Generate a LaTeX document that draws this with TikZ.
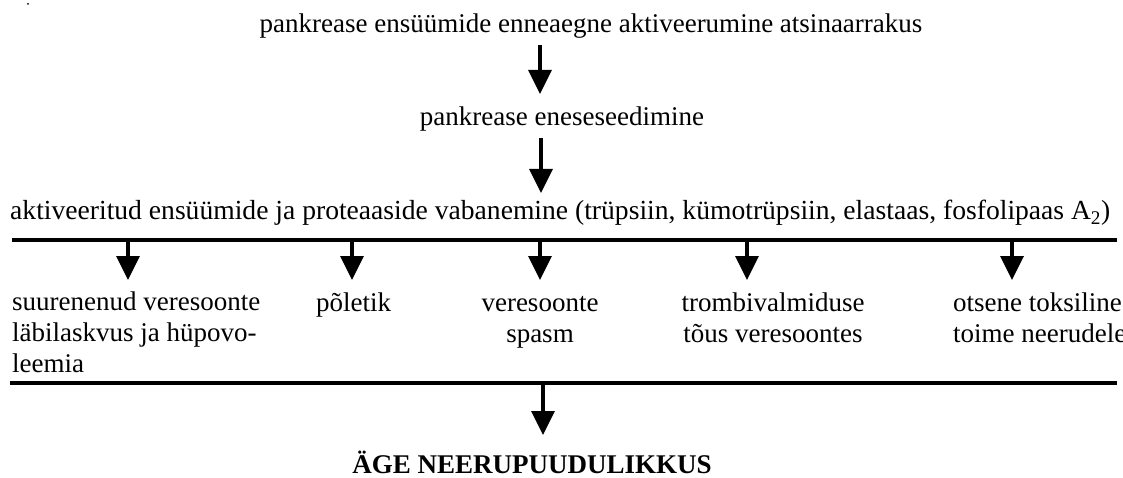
\documentclass[tikz,border=0pt]{standalone}
\usepackage{fontspec}
\setmainfont{Liberation Serif}
\usetikzlibrary{arrows.meta}

\tikzset{
  txt/.style={inner sep=0pt, font=\fontsize{27}{31}\selectfont},
  flow/.style={line width=3.5pt, -{Triangle[width=23pt,length=24pt]}},
  bar/.style={line width=4pt},
}

\begin{document}
\begin{tikzpicture}[x=1pt,y=-1pt]
  \useasboundingbox (0,0) rectangle (1123,478);
  \fill (28,4) circle (1);

  % chain at the top
  \node[txt, anchor=base] (aktiv) at (591,33) {pankrease ensüümide enneaegne aktiveerumine atsinaarrakus};
  \node[txt, anchor=base] (seedimine) at (562,126) {pankrease eneseseedimine};
  \node[txt, font=\fontsize{27.6}{31}\selectfont, anchor=base west] (vabanemine) at (10,220) {aktiveeritud ensüümide ja proteaaside vabanemine (trüpsiin, kümotrüpsiin, elastaas, fosfolipaas A\textsubscript{2})};

  \coordinate (s1) at (540,45);  \coordinate (t1) at (540,94);
  \coordinate (s2) at (541,138); \coordinate (t2) at (541,193);
  \draw[flow] (s1) -- (t1);
  \draw[flow] (s2) -- (t2);

  % bars
  \coordinate (b1l) at (12,240); \coordinate (b1r) at (1117,240);
  \coordinate (b2l) at (10,383); \coordinate (b2r) at (1117,383);
  \draw[bar] (b1l) -- (b1r);
  \draw[bar] (b2l) -- (b2r);

  \foreach \x in {128,352,540,747,1012}
    \draw[flow] (\x,240) -- (\x,280);

  % effects (base = last line)
  \node[txt, anchor=base west, align=left] (hypo) at (12,372) {suurenenud veresoonte\\läbilaskvus ja hüpovo-\\leemia};
  \node[txt, anchor=base west] (poletik) at (316,311) {põletik};
  \node[txt, anchor=base, align=center] (spasm) at (540,342) {veresoonte\\spasm};
  \node[txt, anchor=base, align=center] (tromb) at (773,342) {trombivalmiduse\\tõus veresoontes};
  \node[txt, anchor=base west, align=left] (toks) at (953,342) {otsene toksiline\\toime neerudele};

  \coordinate (s3) at (543,383); \coordinate (t3) at (543,435);
  \draw[flow] (s3) -- (t3);

  \node[txt, font=\fontsize{27}{31}\selectfont\bfseries, anchor=base] (ageneer) at (532,473) {ÄGE NEERUPUUDULIKKUS};
\end{tikzpicture}
\end{document}
